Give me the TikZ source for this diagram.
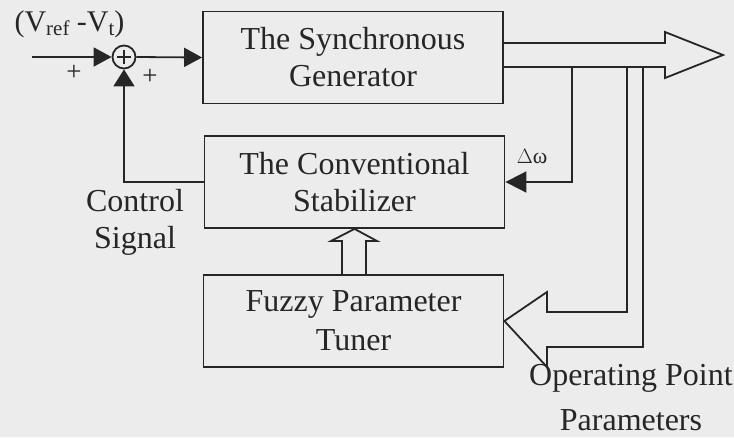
\documentclass[tikz,border=0pt]{standalone}
\usepackage{fontspec}
\setmainfont{Liberation Serif}
\usetikzlibrary{arrows.meta,calc}
\definecolor{bg}{RGB}{236,236,236}
\definecolor{ink}{RGB}{38,38,38}
\newcommand{\mysub}[1]{\raisebox{-0.3ex}{\fontsize{21}{21}\selectfont #1}}
\begin{document}
\begin{tikzpicture}[x=1pt,y=-1pt,
  line width=1.8pt, draw=ink, text=ink,
  blockbox/.style={draw, line width=1.8pt, minimum width=300pt, minimum height=92pt,
    align=center, inner sep=0pt, font=\fontsize{32}{37}\selectfont},
  lbl/.style={align=center, inner sep=0pt, font=\fontsize{32}{37}\selectfont},
  small/.style={inner sep=0pt, font=\fontsize{27}{27}\selectfont},
  tri/.style={-{Triangle[length=18pt,width=19pt]}},
  hollow/.style={line width=1.8pt, line join=miter}
]
\fill[bg] (0,0) rectangle (734,437);
\useasboundingbox (0,0) rectangle (734,437);

% blocks
\node[blockbox] (gen) at (353,57.5) {The Synchronous\\Generator};
\node[blockbox] (stab) at (354.5,182) {The Conventional\\Stabilizer};
\node[blockbox, font=\fontsize{32}{39}\selectfont] (fuzzy) at (353.5,321) {Fuzzy Parameter\\Tuner};

% summing junction
\node[circle, draw, line width=1.8pt, minimum size=23pt, inner sep=0pt] (sum) at (124,57) {};
\draw[line width=1.3pt] ($(sum.center)+(-7,0)$) -- ($(sum.center)+(7,0)$);
\draw[line width=1.3pt] ($(sum.center)+(0,-7)$) -- ($(sum.center)+(0,7)$);

% input
\coordinate (in) at (32,57);
\draw[tri] (in) -- (sum.west);
\draw[tri] (sum.east) -- (gen.west);

% control signal feedback
\draw[-{Triangle[length=17pt,width=21pt]}] (stab.west) -| (sum.south);

% big output hollow arrow
\coordinate (o1) at (gen.east |- 0,43);
\coordinate (o2) at (gen.east |- 0,67);
\draw[hollow] (o1) -- (665,43) -- (665,32) -- (723,55) -- (665,78) -- (665,67) -- (o2);

% delta omega feedback
\coordinate (dw) at (572,67);
\draw[-{Triangle[length=21pt,width=21pt]}] (dw) |- (stab.east);
\node[inner sep=0pt, font=\fontsize{22}{22}\selectfont] (dwl) at (532,157) {$\Delta$ω};

% hollow arrow to fuzzy tuner
\coordinate (p1) at (627,67);
\coordinate (p2) at (643,67);
\draw[hollow] (p1) -- (627,312) -- (547,312) -- (547,292) -- (fuzzy.east) -- (547,367) -- (547,347) -- (643,347) -- (p2);

% hollow up arrow fuzzy -> stabilizer
\draw[hollow] (342,275) -- (342,241) -- (331,241) -- (stab.south) -- (377,241) -- (366,241) -- (366,275);

% labels
\node[inner sep=0pt, font=\fontsize{30}{30}\selectfont] (vref) at (69.5,24) {(V\mysub{ref} -V\mysub{t})};
\node[small] (p1l) at (74,73) {+};
\node[small] (p2l) at (150,77) {+};
\node[lbl] (ctl) at (135,222) {Control\\Signal};
\node[lbl, font=\fontsize{32}{45}\selectfont] (opl) at (631,398) {Operating Point\\Parameters};
\end{tikzpicture}
\end{document}
